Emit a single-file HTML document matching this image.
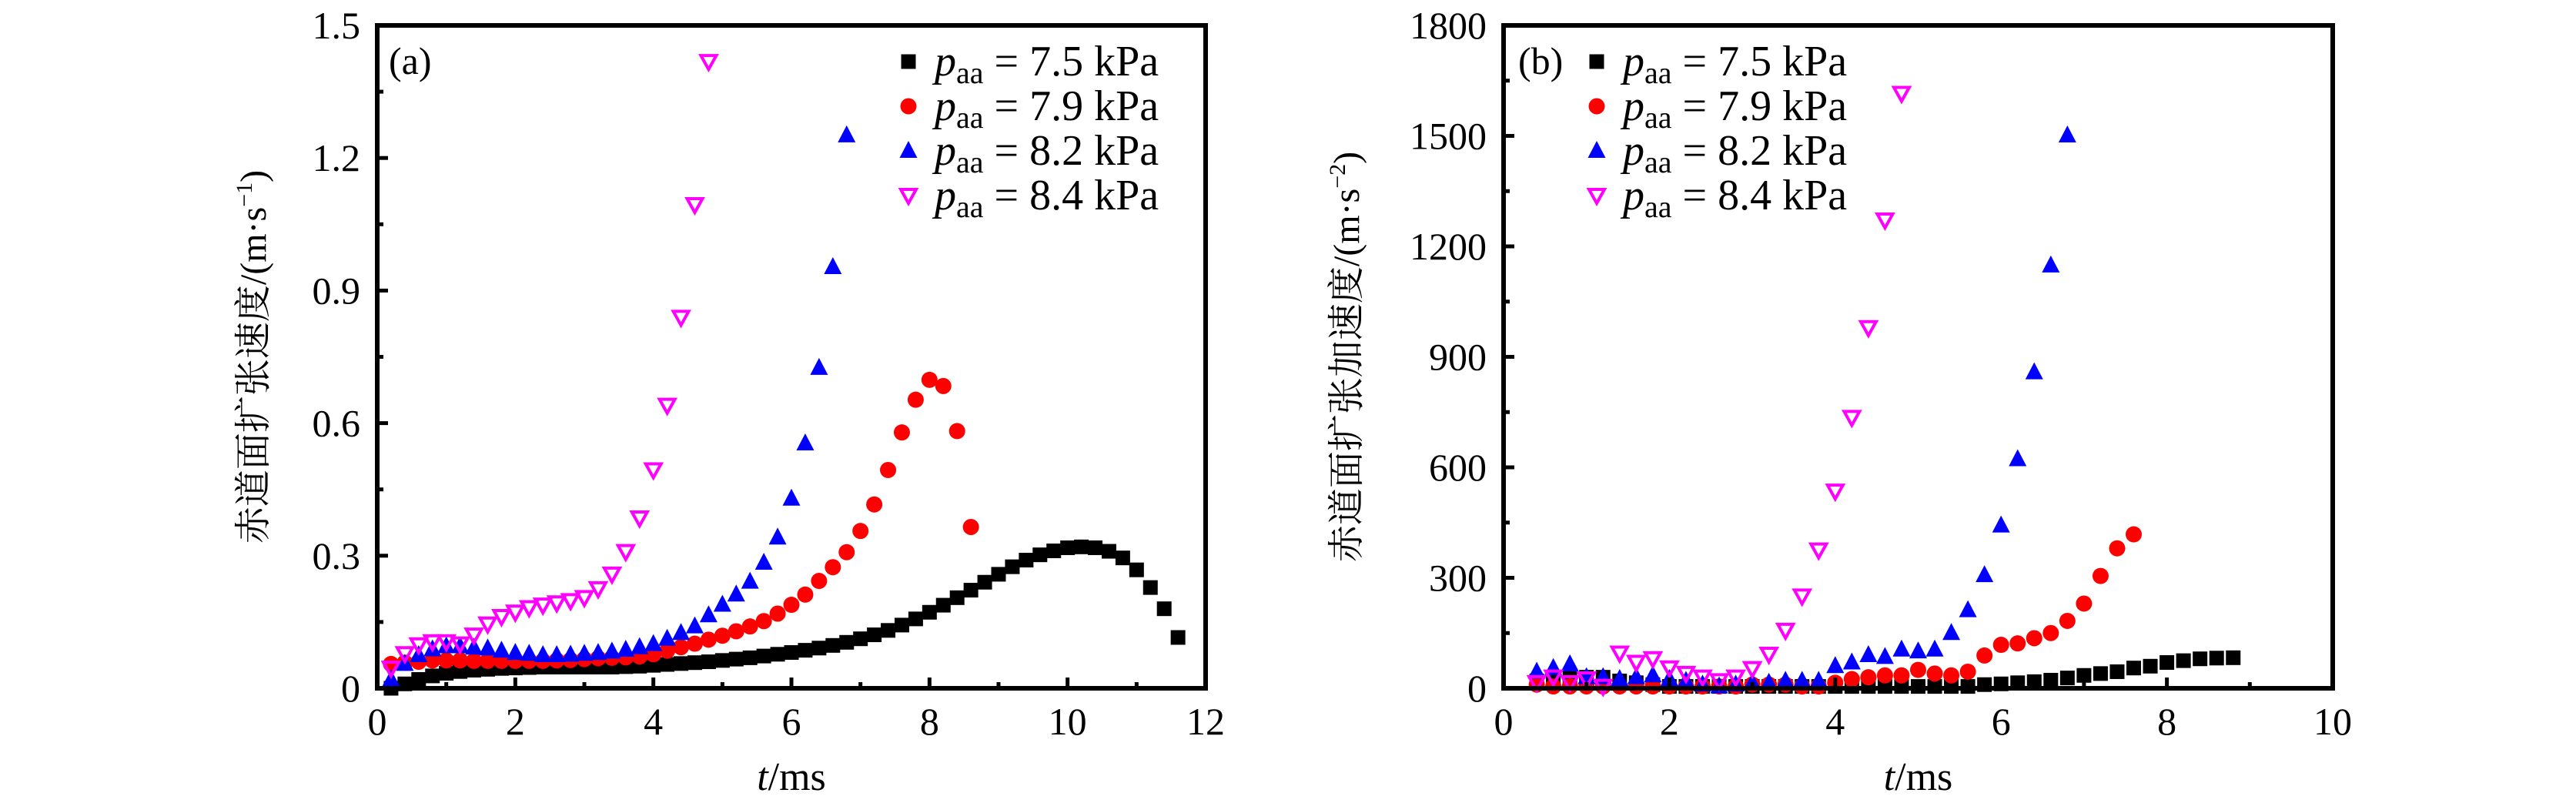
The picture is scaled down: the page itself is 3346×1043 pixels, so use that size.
<!DOCTYPE html>
<html><head><meta charset="utf-8">
<style>
html,body{margin:0;padding:0;background:#fff;}
svg{display:block;}
text{font-family:"Liberation Serif","Noto Serif CJK SC",serif;fill:#000;}
</style></head>
<body>
<svg id="fig" width="3346" height="1043" viewBox="0 0 3346 1043" xmlns="http://www.w3.org/2000/svg">
<rect x="0" y="0" width="3346" height="1043" fill="#fff"/>
<g id="pa"></g>
<g id="pb"></g>
</svg>
<script>
// ---- Panel (a) data: velocity (m/s) ----
const aT75 = [0.2,0.4,0.6,0.8,1.0,1.2,1.4,1.6,1.8,2.0,2.2,2.4,2.6,2.8,3.0,3.2,3.4,3.6,3.8,4.0,4.2,4.4,4.6,4.8,5.0,5.2,5.4,5.6,5.8,6.0,6.2,6.4,6.6,6.8,7.0,7.2,7.4,7.6,7.8,8.0,8.2,8.4,8.6,8.8,9.0,9.2,9.4,9.6,9.8,10.0,10.2,10.4,10.6,10.8,11.0,11.2,11.4,11.6];
const aV75 = [0.0,0.01,0.02,0.028,0.034,0.038,0.041,0.043,0.045,0.046,0.047,0.048,0.048,0.048,0.048,0.048,0.048,0.049,0.05,0.052,0.054,0.056,0.058,0.06,0.063,0.066,0.069,0.073,0.077,0.081,0.086,0.091,0.097,0.104,0.112,0.121,0.131,0.143,0.157,0.172,0.188,0.205,0.222,0.24,0.258,0.275,0.29,0.302,0.311,0.318,0.32,0.318,0.31,0.295,0.268,0.228,0.18,0.115];
const aT79 = [0.2,0.4,0.6,0.8,1.0,1.2,1.4,1.6,1.8,2.0,2.2,2.4,2.6,2.8,3.0,3.2,3.4,3.6,3.8,4.0,4.2,4.4,4.6,4.8,5.0,5.2,5.4,5.6,5.8,6.0,6.2,6.4,6.6,6.8,7.0,7.2,7.4,7.6,7.8,8.0,8.2,8.4,8.6];
const aV79 = [0.055,0.058,0.06,0.063,0.063,0.063,0.062,0.062,0.062,0.062,0.062,0.062,0.063,0.064,0.066,0.068,0.069,0.07,0.072,0.077,0.085,0.093,0.101,0.11,0.119,0.129,0.14,0.152,0.169,0.189,0.212,0.243,0.274,0.308,0.356,0.416,0.494,0.579,0.653,0.698,0.684,0.582,0.365];
const aT82 = [0.2,0.4,0.6,0.8,1.0,1.2,1.4,1.6,1.8,2.0,2.2,2.4,2.6,2.8,3.0,3.2,3.4,3.6,3.8,4.0,4.2,4.4,4.6,4.8,5.0,5.2,5.4,5.6,5.8,6.0,6.2,6.4,6.6,6.8];
const aV82 = [0.02,0.055,0.075,0.088,0.095,0.095,0.092,0.09,0.085,0.08,0.078,0.075,0.075,0.076,0.078,0.08,0.083,0.087,0.093,0.1,0.112,0.125,0.14,0.165,0.189,0.212,0.241,0.284,0.341,0.429,0.554,0.725,0.953,1.251];
const aT84 = [0.2,0.4,0.6,0.8,1.0,1.2,1.4,1.6,1.8,2.0,2.2,2.4,2.6,2.8,3.0,3.2,3.4,3.6,3.8,4.0,4.2,4.4,4.6,4.8];
const aV84 = [0.045,0.078,0.098,0.105,0.105,0.1,0.12,0.145,0.162,0.172,0.182,0.188,0.193,0.198,0.205,0.225,0.258,0.309,0.385,0.494,0.64,0.839,1.094,1.418];
const aXTicks = [0,2,4,6,8,10,12];
const aYTicks = [0,0.3,0.6,0.9,1.2,1.5];
const aYTickLabels = ["0","0.3","0.6","0.9","1.2","1.5"];

// ---- Panel (b) data: acceleration (m/s^2) ----
const bT75 = [0.4,0.6,0.8,1.0,1.2,1.4,1.6,1.8,2.0,2.2,2.4,2.6,2.8,3.0,3.2,3.4,3.6,3.8,4.0,4.2,4.4,4.6,4.8,5.0,5.2,5.4,5.6,5.8,6.0,6.2,6.4,6.6,6.8,7.0,7.2,7.4,7.6,7.8,8.0,8.2,8.4,8.6,8.8];
const bA75 = [20,25,30,30,30,20,15,10,5,5,5,5,5,5,5,5,5,5,5,5,5,5,5,5,5,5,5,10,12,15,18,22,28,35,40,45,55,60,70,75,80,82,83];
const bT79 = [0.4,0.6,0.8,1.0,1.2,1.4,1.6,1.8,2.0,2.2,2.4,2.6,2.8,3.0,3.2,3.4,3.6,3.8,4.0,4.2,4.4,4.6,4.8,5.0,5.2,5.4,5.6,5.8,6.0,6.2,6.4,6.6,6.8,7.0,7.2,7.4,7.6];
const bA79 = [10,5,5,5,5,5,5,5,5,5,5,5,5,10,10,10,5,5,15,25,30,35,35,50,40,35,45,89,118,122,136,150,183,230,305,380,418];
const bT82 = [0.4,0.6,0.8,1.0,1.2,1.4,1.6,1.8,2.0,2.2,2.4,2.6,2.8,3.0,3.2,3.4,3.6,3.8,4.0,4.2,4.4,4.6,4.8,5.0,5.2,5.4,5.6,5.8,6.0,6.2,6.4,6.6,6.8];
const bA82 = [45,55,65,30,30,25,30,35,25,20,10,5,10,15,15,20,20,20,60,70,90,85,105,100,105,150,212,307,442,622,858,1148,1501];
const bT84 = [0.4,0.6,0.8,1.0,1.2,1.4,1.6,1.8,2.0,2.2,2.4,2.6,2.8,3.0,3.2,3.4,3.6,3.8,4.0,4.2,4.4,4.6,4.8];
const bA84 = [15,30,15,25,5,95,70,80,55,40,30,20,30,53,92,157,250,375,535,735,979,1271,1615];
const bXTicks = [0,2,4,6,8,10];
const bYTicks = [0,300,600,900,1200,1500,1800];
const bYTickLabels = ["0","300","600","900","1200","1500","1800"];
const legendLabels = ["7.5","7.9","8.2","8.4"];

const NS = "http://www.w3.org/2000/svg";
function mk(tag, attrs, parent){
  const e = document.createElementNS(NS, tag);
  for (const k in attrs) e.setAttribute(k, attrs[k]);
  parent.appendChild(e);
  return e;
}
function marker(kind, cx, cy, g){
  let e;
  if (kind === 0) {
    e = mk('rect', {x:cx-9.5, y:cy-9.5, width:19, height:19, fill:'#000'}, g);
  } else if (kind === 1) {
    e = mk('circle', {cx:cx, cy:cy, r:10.5, fill:'#ff0000'}, g);
  } else if (kind === 2) {
    e = mk('polygon', {points:`${cx},${cy-13} ${cx+11.5},${cy+9} ${cx-11.5},${cy+9}`, fill:'#0000ff'}, g);
  } else {
    e = mk('polygon', {points:`${cx-10},${cy-8} ${cx+10},${cy-8} ${cx},${cy+10}`, fill:'none', stroke:'#ff00ff', 'stroke-width':4, 'stroke-linejoin':'miter'}, g);
  }
  return e;
}

function panel(g, cfg){
  const {L,R,T,B,xmax,ymax} = cfg;
  const sx = v => L + (v/xmax)*(R-L);
  const sy = v => B - (v/ymax)*(B-T);
  const seriesNames = ['series-7-5kpa','series-7-9kpa','series-8-2kpa','series-8-4kpa'];
  cfg.series.forEach((s, k) => {
    const sg = mk('g', {}, g);
    
    
    for (let i=0;i<s[0].length;i++){
      const m = marker(k, sx(s[0][i]), sy(s[1][i]), sg);
      
      
    }
  });
  const fr = mk('rect', {x:L, y:T, width:R-L, height:B-T, fill:'none', stroke:'#000', 'stroke-width':6}, g);
  
  
  const xt = cfg.xTicks;
  for (let i=0;i<xt.length;i++){
    const x = sx(xt[i]);
    if (i>0 && i<xt.length-1) {
      const t = mk('line', {x1:x, x2:x, y1:B, y2:B-14, stroke:'#000', 'stroke-width':5}, g);
      
      
    }
    if (i<xt.length-1){
      const xm = sx((xt[i]+xt[i+1])/2);
      const t2 = mk('line', {x1:xm, x2:xm, y1:B, y2:B-8, stroke:'#000', 'stroke-width':5}, g);
      
      
    }
    const lb = mk('text', {x:x, y:B+60, 'font-size':50, 'text-anchor':'middle'}, g);
    lb.textContent = String(xt[i]);
    
    
  }
  const yt = cfg.yTicks;
  for (let i=0;i<yt.length;i++){
    const y = sy(yt[i]);
    if (i>0 && i<yt.length-1) {
      const t = mk('line', {x1:L, x2:L+14, y1:y, y2:y, stroke:'#000', 'stroke-width':5}, g);
      
      
    }
    if (i<yt.length-1){
      const ym = sy((yt[i]+yt[i+1])/2);
      const t2 = mk('line', {x1:L, x2:L+8, y1:ym, y2:ym, stroke:'#000', 'stroke-width':5}, g);
      
      
    }
    const lb = mk('text', {x:L-22, y:y+17, 'font-size':50, 'text-anchor':'end'}, g);
    lb.textContent = cfg.yLabels[i];
    
    
  }
  const xtTitle = mk('text', {x:(L+R)/2, y:1026, 'font-size':52, 'text-anchor':'middle'}, g);
  xtTitle.innerHTML = '<tspan font-style="italic">t</tspan>/ms';
  
  
  const cy = (T+B)/2;
  const ytTitle = mk('text', {x:0, y:0, 'font-size':48, 'text-anchor':'middle', transform:`translate(${cfg.ylx},${cy}) rotate(-90)`}, g);
  ytTitle.innerHTML = cfg.yTitle;
  
  
  const pl = mk('text', {x:cfg.letterX, y:96, 'font-size':50}, g);
  pl.textContent = cfg.letter;
  
  
  const lg = mk('g', {}, g);
  
  
  const rows = [80,138,196,254];
  for (let k=0;k<4;k++){
    const eg = mk('g', {}, lg);
    
    
    marker(k, cfg.legX, rows[k], eg);
    const tx = mk('text', {x:cfg.legX+34, y:rows[k]+18, 'font-size':56}, eg);
    tx.innerHTML = '<tspan font-style="italic">p</tspan><tspan font-size="40" dy="10">aa</tspan><tspan dy="-10"> = ' + legendLabels[k] + ' kPa</tspan>';
  }
}

panel(document.getElementById('pa'), {
  L:490, R:1566, T:33, B:894, xmax:12, ymax:1.5,
  xTicks:aXTicks, yTicks:aYTicks, yLabels:aYTickLabels,
  series:[[aT75,aV75],[aT79,aV79],[aT82,aV82],[aT84,aV84]],
  ylx:345, letter:'(a)', letterX:505, legX:1180,
  yTitle:'赤道面扩张速度/(m·s<tspan font-size="30" dy="-18">−1</tspan><tspan dy="18">)</tspan>'
});
panel(document.getElementById('pb'), {
  L:1953, R:3030, T:33, B:894, xmax:10, ymax:1800,
  xTicks:bXTicks, yTicks:bYTicks, yLabels:bYTickLabels,
  series:[[bT75,bA75],[bT79,bA79],[bT82,bA82],[bT84,bA84]],
  ylx:1765, letter:'(b)', letterX:1972, legX:2074,
  yTitle:'赤道面扩张加速度/(m·s<tspan font-size="30" dy="-18">−2</tspan><tspan dy="18">)</tspan>'
});
</script>
</body></html>
